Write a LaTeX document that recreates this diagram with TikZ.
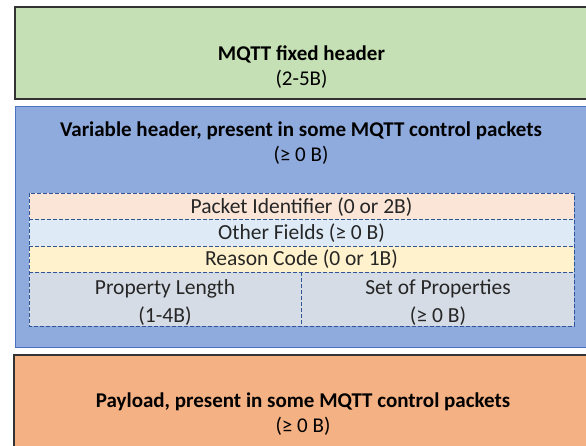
\documentclass[tikz,border=0pt]{standalone}
\usepackage{fontspec}
\setmainfont{Carlito}
\definecolor{fixedgreen}{HTML}{C5E0B4}
\definecolor{varblue}{HTML}{8FAADC}
\definecolor{varedge}{HTML}{4A72C0}
\definecolor{payorange}{HTML}{F4B183}
\definecolor{dashblue}{HTML}{2F5597}
\definecolor{pidfill}{HTML}{FBE5D6}
\definecolor{otherfill}{HTML}{DEEBF7}
\definecolor{reasonfill}{HTML}{FFF2CC}
\definecolor{propfill}{HTML}{D6DCE5}
\begin{document}
\begin{tikzpicture}[x=1pt,y=-1pt,
  outerbox/.style={line width=1.2pt,draw=black!80},
  field/.style={draw=dashblue,line width=0.8pt,dash pattern=on 4pt off 2pt},
  title/.style={font=\fontsize{21}{25}\selectfont\bfseries,align=center,inner sep=0pt},
  label/.style={font=\fontsize{21.5}{28}\selectfont,align=center,inner sep=0pt,text=black!85}]
\clip (0,0) rectangle (586,446);
\fill[white] (0,0) rectangle (586,446);

% fixed header
\draw[outerbox,fill=fixedgreen] (15,7) rectangle (610,99);
\node[title] (fixed) at (301.5,67) {MQTT fixed header\\\mdseries (2-5B)};

% variable header
\draw[line width=1pt,draw=varedge,fill=varblue] (15,107) rectangle (610,347);
\node[title] (var) at (301,143) {Variable header, present in some MQTT control packets\\\mdseries (≥ 0 B)};

% fields of the variable header: fills first, dashed rules on top
\fill[pidfill]    (29,193) rectangle (574,219);
\fill[otherfill]  (29,219) rectangle (574,246);
\fill[reasonfill] (29,246) rectangle (574,272);
\fill[propfill]   (29,272) rectangle (574,326);
\draw[field] (29,193) rectangle (574,326);
\draw[field] (29,219) -- (574,219);
\draw[field] (29,246) -- (574,246);
\draw[field] (29,272) -- (574,272);
\draw[field] (301.5,272) -- (301.5,326);
\node[label] (pid)    at (301.5,207) {Packet Identifier (0 or 2B)};
\node[label] (other)  at (301.5,233) {Other Fields (≥ 0 B)};
\node[label] (reason) at (301.5,259.5) {Reason Code (0 or 1B)};
\node[label] (plen)   at (165,303) {Property Length\\(1-4B)};
\node[label] (props)  at (438,303) {Set of Properties\\(≥ 0 B)};

% payload
\draw[outerbox,fill=payorange] (14,355) rectangle (610,470);
\node[title] (payload) at (303,414) {Payload, present in some MQTT control packets\\\mdseries (≥ 0 B)};
\end{tikzpicture}
\end{document}
